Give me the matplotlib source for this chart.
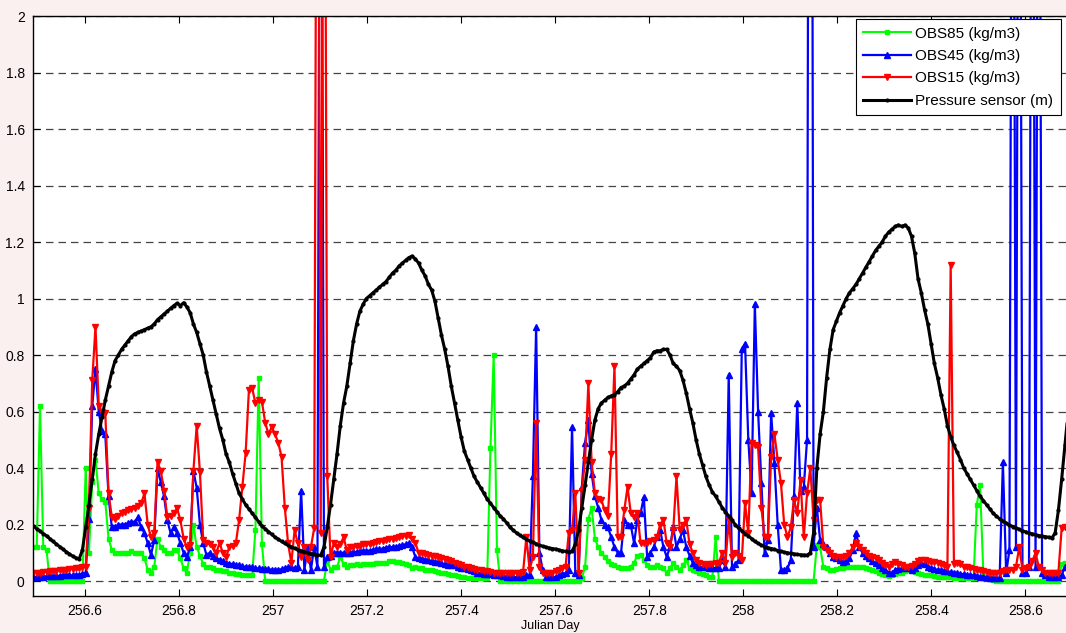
import numpy as np
import matplotlib.pyplot as plt
from matplotlib.ticker import FormatStrFormatter

plt.rcParams['font.family'] = ['Liberation Sans', 'DejaVu Sans']

#%% data, one sample every 10 min starting at julian day 256.49

t_start = 256.49
dt = 1 / 144.0

obs85 = [
    0.12, 0.12, 0.62, 0.12, 0.11, 0, 0, 0, 0, 0, 0, 0,
    0, 0, 0, 0, 0.40, 0.10, 0.35, 0.43, 0.31, 0.29, 0.28, 0.15,
    0.11, 0.10, 0.10, 0.10, 0.10, 0.10, 0.105, 0.10, 0.10, 0.10, 0.08, 0.04,
    0.03, 0.05, 0.15, 0.12, 0.11, 0.10, 0.10, 0.11, 0.11, 0.08, 0.045, 0.03,
    0.10, 0.20, 0.12, 0.09, 0.06, 0.05, 0.05, 0.045, 0.04, 0.04, 0.035, 0.035,
    0.03, 0.03, 0.025, 0.025, 0.02, 0.02, 0.02, 0.02, 0.18, 0.72, 0.13, 0,
    0, 0, 0, 0, 0, 0, 0, 0, 0, 0, 0, 0,
    0, 0, 0, 0, 0, 0, 0.075, 0.04, 0.05, 0.05, 0.085, 0.06,
    0.05, 0.055, 0.055, 0.06, 0.055, 0.06, 0.06, 0.06, 0.06, 0.065, 0.065, 0.065,
    0.065, 0.07, 0.07, 0.068, 0.066, 0.065, 0.06, 0.055, 0.046, 0.05, 0.045, 0.045,
    0.04, 0.04, 0.038, 0.035, 0.032, 0.03, 0.028, 0.025, 0.022, 0.02, 0.018, 0.015,
    0.014, 0.012, 0.012, 0.01, 0.01, 0.01, 0.01, 0.01, 0.47, 0.80, 0.11, 0,
    0, 0, 0, 0, 0, 0, 0, 0, 0, 0, 0, 0,
    0, 0, 0, 0, 0, 0, 0, 0, 0, 0, 0, 0,
    0.01, 0.05, 0.22, 0.26, 0.15, 0.12, 0.10, 0.085, 0.07, 0.06, 0.055, 0.05,
    0.046, 0.046, 0.045, 0.05, 0.065, 0.09, 0.092, 0.075, 0.057, 0.05, 0.05, 0.057,
    0.05, 0.046, 0.03, 0.045, 0.064, 0.05, 0.04, 0.055, 0.074, 0.045, 0.04, 0.035,
    0.028, 0.025, 0.02, 0.016, 0.014, 0.155, 0, 0, 0, 0, 0, 0,
    0, 0, 0, 0, 0, 0, 0, 0, 0, 0, 0, 0,
    0, 0, 0, 0, 0, 0, 0, 0, 0, 0, 0, 0,
    0.127, 0.12, 0.05, 0.045, 0.04, 0.04, 0.042, 0.045, 0.046, 0.048, 0.05, 0.05,
    0.05, 0.05, 0.048, 0.045, 0.042, 0.04, 0.035, 0.03, 0.025, 0.02, 0.018, 0.02,
    0.025, 0.028, 0.03, 0.035, 0.04, 0.038, 0.032, 0.028, 0.025, 0.022, 0.02, 0.02,
    0.018, 0.016, 0.015, 0.014, 0.014, 0.013, 0.012, 0.012, 0.011, 0.01, 0.01, 0.01,
    0.01, 0.27, 0.34, 0.03, 0.01, 0.01, 0.005, 0, 0, 0, 0, 0,
    0, 0, 0, 0, 0, 0, 0, 0, 0, 0, 0, 0,
    0, 0, 0, 0.06, 0.065, 0.06,
]

obs45 = [
    0.015, 0.015, 0.015, 0.016, 0.017, 0.017, 0.018, 0.018, 0.019, 0.02, 0.02, 0.02,
    0.02, 0.022, 0.022, 0.025, 0.03, 0.22, 0.62, 0.75, 0.60, 0.53, 0.52, 0.30,
    0.19, 0.19, 0.20, 0.20, 0.20, 0.205, 0.21, 0.21, 0.225, 0.19, 0.17, 0.134,
    0.092, 0.145, 0.40, 0.35, 0.30, 0.215, 0.17, 0.19, 0.17, 0.134, 0.10, 0.085,
    0.12, 0.39, 0.33, 0.20, 0.134, 0.092, 0.10, 0.09, 0.08, 0.075, 0.07, 0.065,
    0.062, 0.06, 0.057, 0.055, 0.052, 0.05, 0.05, 0.048, 0.046, 0.045, 0.044, 0.043,
    0.042, 0.04, 0.04, 0.04, 0.042, 0.045, 0.05, 0.05, 0.045, 0.05, 0.32, 0.04,
    0.12, 0.04, 0.12, 0.05, 4.0, 0.05, 0.085, 0.09, 0.10, 0.10, 0.10, 0.10,
    0.10, 0.10, 0.102, 0.104, 0.105, 0.106, 0.107, 0.108, 0.11, 0.112, 0.113, 0.115,
    0.118, 0.12, 0.12, 0.122, 0.125, 0.127, 0.13, 0.134, 0.12, 0.085, 0.08, 0.078,
    0.075, 0.074, 0.07, 0.068, 0.066, 0.063, 0.06, 0.058, 0.057, 0.055, 0.05, 0.046,
    0.045, 0.043, 0.04, 0.035, 0.03, 0.028, 0.026, 0.025, 0.024, 0.022, 0.021, 0.02,
    0.018, 0.016, 0.014, 0.014, 0.014, 0.014, 0.014, 0.02, 0.02, 0.37, 0.90, 0.10,
    0.04, 0.014, 0.014, 0.014, 0.015, 0.02, 0.025, 0.028, 0.04, 0.545, 0.028, 0.02,
    0.333, 0.49, 0.57, 0.38, 0.30, 0.26, 0.216, 0.20, 0.19, 0.155, 0.12, 0.10,
    0.10, 0.216, 0.20, 0.198, 0.134, 0.216, 0.24, 0.297, 0.085, 0.10, 0.12, 0.155,
    0.18, 0.12, 0.085, 0.12, 0.19, 0.12, 0.15, 0.18, 0.12, 0.09, 0.064, 0.055,
    0.05, 0.05, 0.048, 0.047, 0.046, 0.046, 0.046, 0.074, 0.05, 0.73, 0.05, 0.06,
    0.074, 0.82, 0.84, 0.50, 0.31, 0.98, 0.60, 0.347, 0.10, 0.145, 0.595, 0.417,
    0.20, 0.04, 0.04, 0.045, 0.074, 0.30, 0.63, 0.32, 0.333, 0.50, 6.0, 0.12,
    0.26, 0.145, 0.13, 0.12, 0.10, 0.085, 0.08, 0.075, 0.067, 0.07, 0.08, 0.11,
    0.17, 0.12, 0.10, 0.09, 0.08, 0.07, 0.064, 0.055, 0.045, 0.04, 0.03, 0.028,
    0.04, 0.042, 0.045, 0.048, 0.045, 0.04, 0.045, 0.055, 0.065, 0.06, 0.05, 0.045,
    0.042, 0.04, 0.038, 0.036, 0.034, 0.032, 0.03, 0.028, 0.026, 0.024, 0.022, 0.02,
    0.02, 0.018, 0.016, 0.015, 0.014, 0.012, 0.01, 0.01, 0.012, 0.42, 0.028, 0.11,
    4.0, 0.12, 4.0, 0.028, 0.03, 0.05, 4.0, 0.05, 4.0, 0.028, 0.02, 0.016,
    0.014, 0.014, 0.014, 0.02, 0.05, 0.06,
]

obs15 = [
    0.03, 0.03, 0.03, 0.032, 0.033, 0.035, 0.036, 0.037, 0.038, 0.04, 0.04, 0.042,
    0.043, 0.045, 0.046, 0.048, 0.05, 0.26, 0.71, 0.90, 0.62, 0.60, 0.595, 0.31,
    0.227, 0.22, 0.23, 0.24, 0.245, 0.25, 0.255, 0.26, 0.265, 0.275, 0.31, 0.20,
    0.155, 0.17, 0.42, 0.39, 0.32, 0.227, 0.23, 0.24, 0.258, 0.216, 0.15, 0.12,
    0.127, 0.39, 0.55, 0.385, 0.145, 0.134, 0.13, 0.12, 0.10, 0.134, 0.10, 0.085,
    0.12, 0.125, 0.134, 0.216, 0.333, 0.453, 0.675, 0.683, 0.63, 0.64, 0.634, 0.56,
    0.52, 0.545, 0.52, 0.49, 0.44, 0.26, 0.134, 0.064, 0.18, 0.134, 0.085, 0.12,
    0.074, 0.12, 0.187, 4.0, 0.17, 4.0, 0.37, 0.085, 0.134, 0.12, 0.13, 0.155,
    0.11, 0.12, 0.12, 0.125, 0.125, 0.13, 0.13, 0.132, 0.135, 0.138, 0.14, 0.142,
    0.145, 0.148, 0.15, 0.152, 0.155, 0.158, 0.16, 0.163, 0.15, 0.134, 0.10, 0.098,
    0.095, 0.092, 0.09, 0.088, 0.085, 0.08, 0.078, 0.074, 0.07, 0.065, 0.06, 0.055,
    0.05, 0.048, 0.045, 0.043, 0.04, 0.038, 0.036, 0.034, 0.032, 0.03, 0.028, 0.028,
    0.028, 0.028, 0.028, 0.028, 0.03, 0.03, 0.032, 0.155, 0.04, 0.085, 0.56, 0.05,
    0.028, 0.028, 0.03, 0.03, 0.035, 0.04, 0.045, 0.05, 0.17, 0.18, 0.31, 0.028,
    0.32, 0.43, 0.70, 0.42, 0.31, 0.29, 0.287, 0.25, 0.23, 0.45, 0.76, 0.155,
    0.155, 0.25, 0.333, 0.24, 0.227, 0.24, 0.134, 0.134, 0.134, 0.14, 0.145, 0.155,
    0.20, 0.216, 0.134, 0.12, 0.18, 0.37, 0.18, 0.20, 0.216, 0.13, 0.10, 0.074,
    0.065, 0.06, 0.058, 0.06, 0.062, 0.064, 0.064, 0.10, 0.064, 0.216, 0.085, 0.10,
    0.09, 0.074, 0.276, 0.17, 0.49, 0.48, 0.474, 0.26, 0.155, 0.155, 0.44, 0.52,
    0.43, 0.347, 0.20, 0.155, 0.19, 0.287, 0.24, 0.357, 0.155, 0.31, 0.40, 0.216,
    0.287, 0.287, 0.12, 0.11, 0.10, 0.09, 0.085, 0.085, 0.085, 0.09, 0.10, 0.12,
    0.134, 0.12, 0.11, 0.10, 0.09, 0.085, 0.08, 0.074, 0.065, 0.055, 0.05, 0.06,
    0.067, 0.06, 0.055, 0.05, 0.05, 0.052, 0.06, 0.07, 0.075, 0.074, 0.07, 0.068,
    0.067, 0.065, 0.06, 0.055, 0.05, 1.12, 0.06, 0.064, 0.06, 0.05, 0.048, 0.045,
    0.042, 0.04, 0.038, 0.035, 0.032, 0.03, 0.028, 0.028, 0.03, 0.035, 0.04, 0.04,
    0.04, 0.05, 0.12, 0.04, 0.045, 0.05, 0.07, 0.10, 0.05, 0.04, 0.028, 0.028,
    0.028, 0.028, 0.03, 0.187, 0.19, 0.19,
]

pressure = [
    0.195, 0.185, 0.177, 0.168, 0.160, 0.150, 0.140, 0.131, 0.122, 0.113, 0.104, 0.096,
    0.088, 0.082, 0.078, 0.110, 0.190, 0.270, 0.360, 0.450, 0.520, 0.580, 0.640, 0.690,
    0.740, 0.780, 0.800, 0.820, 0.835, 0.850, 0.865, 0.875, 0.880, 0.885, 0.890, 0.895,
    0.900, 0.910, 0.925, 0.935, 0.945, 0.955, 0.965, 0.975, 0.983, 0.975, 0.985, 0.970,
    0.950, 0.910, 0.880, 0.840, 0.800, 0.740, 0.690, 0.640, 0.590, 0.540, 0.500, 0.450,
    0.420, 0.380, 0.345, 0.310, 0.290, 0.270, 0.255, 0.240, 0.225, 0.210, 0.195, 0.185,
    0.175, 0.165, 0.155, 0.148, 0.140, 0.133, 0.127, 0.121, 0.116, 0.111, 0.107, 0.103,
    0.100, 0.097, 0.094, 0.092, 0.091, 0.120, 0.190, 0.270, 0.360, 0.450, 0.550, 0.630,
    0.690, 0.770, 0.850, 0.910, 0.955, 0.980, 1.000, 1.010, 1.020, 1.030, 1.040, 1.050,
    1.060, 1.075, 1.090, 1.100, 1.115, 1.125, 1.135, 1.145, 1.150, 1.140, 1.125, 1.100,
    1.080, 1.050, 1.030, 0.990, 0.930, 0.870, 0.820, 0.760, 0.690, 0.630, 0.570, 0.510,
    0.460, 0.430, 0.400, 0.370, 0.350, 0.330, 0.310, 0.290, 0.275, 0.260, 0.245, 0.230,
    0.220, 0.205, 0.190, 0.180, 0.170, 0.162, 0.155, 0.148, 0.142, 0.137, 0.132, 0.127,
    0.123, 0.120, 0.117, 0.115, 0.113, 0.110, 0.107, 0.105, 0.103, 0.105, 0.130, 0.180,
    0.260, 0.340, 0.420, 0.500, 0.570, 0.610, 0.630, 0.640, 0.650, 0.655, 0.660, 0.670,
    0.685, 0.690, 0.700, 0.715, 0.730, 0.750, 0.760, 0.770, 0.780, 0.790, 0.810, 0.815,
    0.815, 0.820, 0.820, 0.800, 0.770, 0.760, 0.745, 0.710, 0.665, 0.610, 0.560, 0.500,
    0.450, 0.410, 0.370, 0.340, 0.315, 0.300, 0.280, 0.260, 0.245, 0.230, 0.215, 0.200,
    0.187, 0.178, 0.168, 0.160, 0.150, 0.140, 0.133, 0.127, 0.122, 0.118, 0.115, 0.112,
    0.108, 0.105, 0.102, 0.100, 0.098, 0.096, 0.094, 0.093, 0.092, 0.091, 0.100, 0.170,
    0.400, 0.520, 0.600, 0.720, 0.820, 0.890, 0.920, 0.950, 0.975, 1.000, 1.020, 1.035,
    1.050, 1.070, 1.090, 1.110, 1.130, 1.150, 1.170, 1.185, 1.200, 1.220, 1.235, 1.245,
    1.255, 1.260, 1.255, 1.260, 1.250, 1.220, 1.160, 1.070, 1.020, 0.960, 0.910, 0.840,
    0.770, 0.720, 0.660, 0.610, 0.550, 0.510, 0.480, 0.455, 0.430, 0.400, 0.380, 0.360,
    0.340, 0.320, 0.300, 0.285, 0.270, 0.255, 0.240, 0.230, 0.220, 0.212, 0.205, 0.198,
    0.193, 0.188, 0.183, 0.178, 0.174, 0.170, 0.167, 0.164, 0.161, 0.159, 0.157, 0.155,
    0.152, 0.170, 0.250, 0.360, 0.480, 0.600,
]

xticks = [256.6, 256.8, 257.0, 257.2, 257.4, 257.6, 257.8, 258.0, 258.2, 258.4, 258.6]
yticks = [0, 0.2, 0.4, 0.6, 0.8, 1.0, 1.2, 1.4, 1.6, 1.8, 2.0]


def days(series):
    return t_start + np.arange(len(series)) * dt


#%% plot

fig = plt.figure(figsize=(10.66, 6.33), dpi=100, facecolor='#fbf0f0')
ax = fig.add_axes([33 / 1066, 37 / 633, 1035 / 1066, 580 / 633])
ax.set_facecolor('white')

ax.plot(days(obs85), obs85, color='#00ff00', lw=1.5, marker='s', ms=3.5,
        label='OBS85 (kg/m3)')
ax.plot(days(obs45), obs45, color='#0000ff', lw=1.6, marker='^', ms=4,
        label='OBS45 (kg/m3)')
ax.plot(days(obs15), obs15, color='#ff0000', lw=1.6, marker='v', ms=4,
        label='OBS15 (kg/m3)')
ax.plot(days(pressure), pressure, color='black', lw=2.2, marker='.', ms=4,
        label='Pressure sensor (m)')

ax.set_xlim(256.489, 258.691)
ax.set_ylim(-0.053, 2.0)
ax.set_xticks(xticks)
ax.set_yticks(yticks)
ax.xaxis.set_major_formatter(FormatStrFormatter('%g'))
ax.yaxis.set_major_formatter(FormatStrFormatter('%g'))
ax.tick_params(direction='in', top=True, right=False, labelsize=10, length=5,
               width=0.8, pad=6)
ax.yaxis.grid(True, linestyle=(0, (6, 4)), color='#444444', lw=0.9)
ax.set_axisbelow(True)
for s in ax.spines.values():
    s.set_linewidth(1.0)

ax.set_xlabel('Julian Day', fontsize=9, labelpad=1)

leg = ax.legend(loc='upper right', bbox_to_anchor=(1061 / 1066, 1 - 19 / 633),
                bbox_transform=fig.transFigure, borderaxespad=0, fontsize=11,
                fancybox=False, framealpha=1, edgecolor='black',
                handlelength=3.1, handletextpad=0.3, borderpad=0.5,
                labelspacing=0.55)
leg.get_frame().set_linewidth(0.8)

plt.savefig('out.png', dpi=100, facecolor=fig.get_facecolor())
